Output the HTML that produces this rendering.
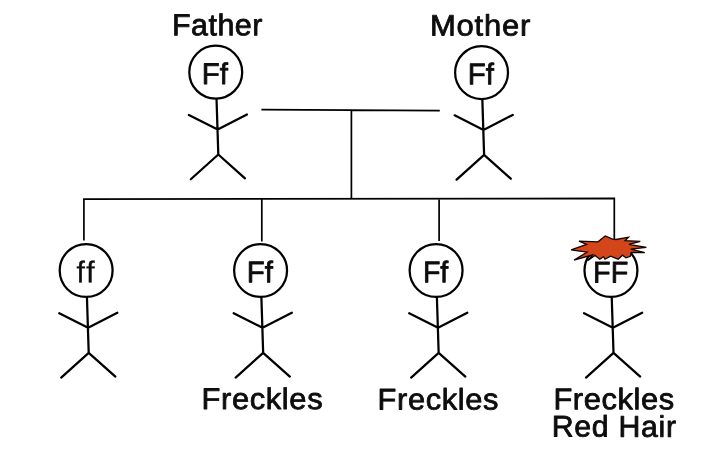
<!DOCTYPE html>
<html lang="en"><head><meta charset="utf-8"><title>Freckles pedigree</title>
<style>html,body{margin:0;padding:0;background:#fff;overflow:hidden}svg{display:block}</style>
</head><body>
<svg width="701" height="461" viewBox="0 0 701 461">
<rect width="701" height="461" fill="#fff"/>
<path d="M261.4 109.7 L439.8 110.6 M351.4 110 L351.4 198.8 M83.9 240.6 L83.9 199.1 L614.3 198.4 L614.3 240 M261.8 198.9 L261.8 241.5 M439.1 198.7 L439.1 241" fill="none" stroke="#000" stroke-width="1.7" stroke-linejoin="miter"/>
<g transform="translate(215.75,72.2)">
<circle cx="0" cy="0" r="26.45" fill="#fff" stroke="#000" stroke-width="2.25"/>
<path d="M0.8 27.3 L2.55 82.3 M-26.9 42.7 L1.95 57.3 L31.2 42.3 M-24.95 107.05 L2.55 82.3 L29.25 106.1" fill="none" stroke="#000" stroke-width="2.25" stroke-linecap="round" stroke-linejoin="round"/>
</g>
<g transform="translate(481.55,72.6)">
<circle cx="0" cy="0" r="26.45" fill="#fff" stroke="#000" stroke-width="2.25"/>
<path d="M0.8 27.3 L2.55 82.3 M-26.9 42.7 L1.95 57.3 L31.2 42.3 M-24.95 107.05 L2.55 82.3 L29.25 106.1" fill="none" stroke="#000" stroke-width="2.25" stroke-linecap="round" stroke-linejoin="round"/>
</g>
<g transform="translate(86.15,270.5)">
<circle cx="0" cy="0" r="26.45" fill="#fff" stroke="#000" stroke-width="2.25"/>
<path d="M0.8 27.3 L2.55 82.3 M-26.9 42.7 L1.95 57.3 L31.2 42.3 M-24.95 107.05 L2.55 82.3 L29.25 106.1" fill="none" stroke="#000" stroke-width="2.25" stroke-linecap="round" stroke-linejoin="round"/>
</g>
<g transform="translate(260.6,270.5)">
<circle cx="0" cy="0" r="26.45" fill="#fff" stroke="#000" stroke-width="2.25"/>
<path d="M0.8 27.3 L2.55 82.3 M-26.9 42.7 L1.95 57.3 L31.2 42.3 M-24.95 107.05 L2.55 82.3 L29.25 106.1" fill="none" stroke="#000" stroke-width="2.25" stroke-linecap="round" stroke-linejoin="round"/>
</g>
<g transform="translate(436.1,270.5)">
<circle cx="0" cy="0" r="26.45" fill="#fff" stroke="#000" stroke-width="2.25"/>
<path d="M0.8 27.3 L2.55 82.3 M-26.9 42.7 L1.95 57.3 L31.2 42.3 M-24.95 107.05 L2.55 82.3 L29.25 106.1" fill="none" stroke="#000" stroke-width="2.25" stroke-linecap="round" stroke-linejoin="round"/>
</g>
<g transform="translate(610.95,270.5)">
<circle cx="0" cy="0" r="26.45" fill="#fff" stroke="#000" stroke-width="2.25"/>
<path d="M0.8 27.3 L2.55 82.3 M-26.9 42.7 L1.95 57.3 L31.2 42.3 M-24.95 107.05 L2.55 82.3 L29.25 106.1" fill="none" stroke="#000" stroke-width="2.25" stroke-linecap="round" stroke-linejoin="round"/>
</g>
<polygon points="571.1,249.9 586.6,244.4 579.0,241.2 598.0,241.8 605.2,235.9 612.6,239.1 616,239.5 628.5,237.2 625.1,240.6 640.3,241.4 628.9,244.4 646.4,247.3 630.8,249.2 644.8,252.6 631.2,252.5 630.3,256.3 626,257.8 622.5,255.2 618.2,259.2 610.6,256.2 605,259.2 603.5,256.6 599.8,259.2 595,255.4 587.6,260.6 592.6,254.9 574.1,260 587.0,252.2" fill="#d4461a" stroke="#120500" stroke-width="1.3" stroke-linejoin="miter"/>
<g font-family="'Liberation Sans', Arial, Helvetica, sans-serif" fill="#0d0d0d" stroke="#0d0d0d" stroke-width="0.8" stroke-linejoin="round" style="filter:grayscale(1)">
<text transform="rotate(0.03 172.00 35.30)" x="172.00" y="35.30" font-size="30.2" letter-spacing="0.5" textLength="90.93" lengthAdjust="spacingAndGlyphs">Father</text>
<text transform="rotate(0.03 430.00 35.45)" x="430.00" y="35.45" font-size="29.6" letter-spacing="0.7" textLength="100.96" lengthAdjust="spacingAndGlyphs">Mother</text>
<text transform="rotate(0.03 201.69 84.00)" x="201.69" y="84.00" font-size="29.8" letter-spacing="0" textLength="26.15" lengthAdjust="spacingAndGlyphs">Ff</text>
<text transform="rotate(0.03 467.69 84.30)" x="467.69" y="84.30" font-size="29.8" letter-spacing="0" textLength="26.15" lengthAdjust="spacingAndGlyphs">Ff</text>
<text transform="rotate(0.03 76.48 282.20)" x="76.48" y="282.20" font-size="30.0" stroke-width="0.35" letter-spacing="0" textLength="18.13" lengthAdjust="spacing">ff</text>
<text transform="rotate(0.03 246.69 282.30)" x="246.69" y="282.30" font-size="29.8" letter-spacing="0" textLength="26.15" lengthAdjust="spacingAndGlyphs">Ff</text>
<text transform="rotate(0.03 422.88 282.30)" x="422.88" y="282.30" font-size="29.8" letter-spacing="0" textLength="25.37" lengthAdjust="spacingAndGlyphs">Ff</text>
<text transform="rotate(0.03 593.12 282.60)" x="593.12" y="282.60" font-size="29.8" letter-spacing="0" textLength="35.13" lengthAdjust="spacingAndGlyphs">FF</text>
<text transform="rotate(0.03 201.59 408.90)" x="201.59" y="408.90" font-size="29.8" letter-spacing="0.6" textLength="121.62" lengthAdjust="spacingAndGlyphs">Freckles</text>
<text transform="rotate(0.03 377.60 409.40)" x="377.60" y="409.40" font-size="29.8" letter-spacing="0.6" textLength="121.32" lengthAdjust="spacingAndGlyphs">Freckles</text>
<text transform="rotate(0.03 553.40 409.20)" x="553.40" y="409.20" font-size="29.8" letter-spacing="0.6" textLength="121.39" lengthAdjust="spacingAndGlyphs">Freckles</text>
<text transform="rotate(0.03 551.66 436.60)" x="551.66" y="436.60" font-size="29.8" letter-spacing="0.7" textLength="125.09" lengthAdjust="spacingAndGlyphs">Red Hair</text>
</g>
</svg>
</body></html>
